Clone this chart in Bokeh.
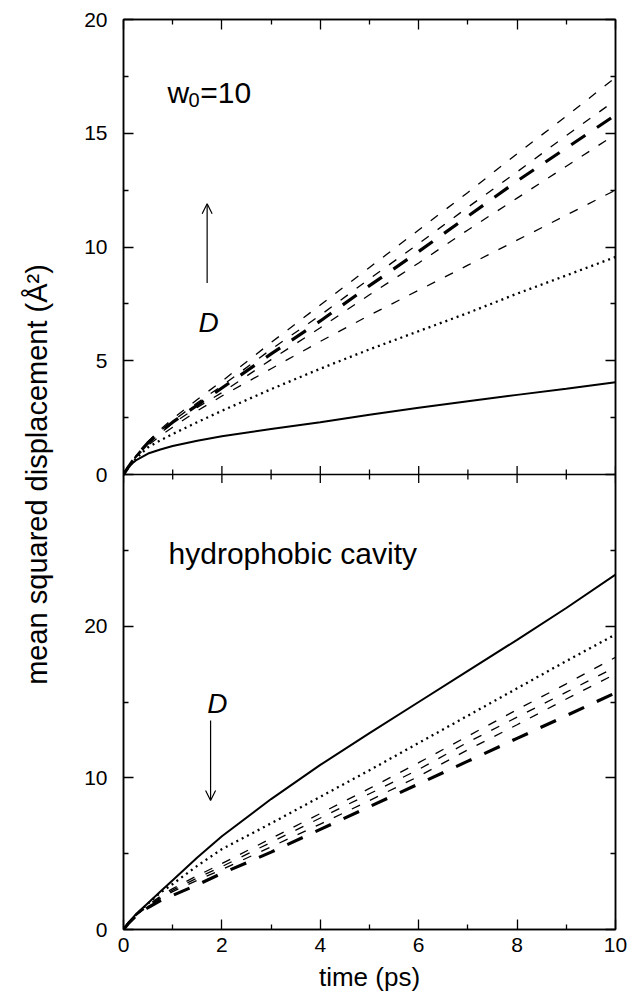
import math
from bokeh.plotting import figure
from bokeh.models import (Range1d, LinearAxis, FixedTicker, Span, Label, Arrow,
                          OpenHead, CustomJSTickFormatter)
from bokeh.embed import file_html
from bokeh.resources import INLINE

FONT = "Liberation Sans"

# ---------------- data ----------------
time_ps = [0, 0.1, 0.25, 0.5, 0.75, 1, 1.5, 2, 3, 4, 5, 6, 7, 8, 9, 10]

# upper panel (w0 = 10)
top_solid  = [0, 0.35, 0.62, 0.92, 1.10, 1.25, 1.48, 1.68, 2.00, 2.30, 2.63, 2.93, 3.22, 3.50, 3.77, 4.05]
top_dotted = [0, 0.30, 0.70, 1.20, 1.50, 1.78, 2.30, 2.80, 3.75, 4.65, 5.50, 6.30, 7.10, 7.95, 8.75, 9.56]
top_thin1  = [0, 0.32, 0.75, 1.28, 1.70, 2.08, 2.80, 3.45, 4.65, 5.85, 7.00, 8.10, 9.20, 10.30, 11.40, 12.50]
top_thin2  = [0, 0.32, 0.78, 1.35, 1.82, 2.25, 2.95, 3.60, 5.05, 6.45, 7.90, 9.30, 10.75, 12.15, 13.55, 14.95]
top_bold   = [0, 0.33, 0.80, 1.40, 1.88, 2.30, 3.05, 3.80, 5.30, 6.75, 8.30, 9.80, 11.35, 12.90, 14.35, 15.80]
top_thin3  = [0, 0.33, 0.80, 1.42, 1.92, 2.35, 3.15, 3.90, 5.50, 7.00, 8.60, 10.15, 11.75, 13.30, 14.90, 16.45]
top_thin4  = [0, 0.34, 0.82, 1.45, 1.98, 2.45, 3.30, 4.10, 5.80, 7.45, 9.10, 10.75, 12.40, 14.10, 15.75, 17.45]

# lower panel (hydrophobic cavity)
bot_solid  = [0, 0.45, 1.00, 1.75, 2.50, 3.25, 4.75, 6.15, 8.60, 10.85, 12.95, 15.00, 17.05, 19.10, 21.20, 23.40]
bot_dotted = [0, 0.42, 0.95, 1.72, 2.43, 3.00, 4.20, 5.30, 7.00, 8.75, 10.50, 12.30, 14.10, 15.90, 17.70, 19.45]
bot_thinA  = [0, 0.42, 0.95, 1.62, 2.20, 2.70, 3.55, 4.35, 6.00, 7.65, 9.30, 11.00, 12.75, 14.50, 16.20, 17.95]
bot_thinB  = [0, 0.42, 0.93, 1.58, 2.12, 2.60, 3.40, 4.15, 5.75, 7.35, 8.95, 10.55, 12.35, 14.00, 15.65, 17.30]
bot_thinC  = [0, 0.42, 0.92, 1.55, 2.05, 2.50, 3.25, 3.95, 5.45, 6.95, 8.50, 10.10, 11.85, 13.50, 15.20, 16.85]
bot_bold   = [0, 0.40, 0.88, 1.45, 1.90, 2.25, 2.95, 3.70, 5.10, 6.60, 8.10, 9.60, 11.10, 12.60, 14.10, 15.60]

# ticks
x_major = [0, 2, 4, 6, 8, 10]
x_minor = [1, 3, 5, 7, 9]
bottom_major = [0, 10, 20]
bottom_minor = [5, 15, 25]
top_major = [0, 5, 10, 15, 20]
top_minor = [2.5, 7.5, 12.5, 17.5]
BOTTOM_MAX = 30     # lower panel spans 0..30
TOP_MAX = 20        # upper panel spans 0..20

# upper panel values expressed on the lower panel's (primary) axis
scale = BOTTOM_MAX / TOP_MAX
def to_primary(v):
    r = BOTTOM_MAX + scale * v
    return int(r) if r == int(r) else r

left_ticks = bottom_major + [to_primary(v) for v in top_major]
left_minor = bottom_minor + [to_primary(v) for v in top_minor]
overrides = {to_primary(v): str(v) for v in top_major}

# ---------------- figure ----------------
p = figure(width=632, height=994, output_backend="svg", toolbar_location=None,
           x_range=Range1d(0, 10), y_range=Range1d(0, 2 * BOTTOM_MAX),
           min_border_left=123, min_border_right=17, min_border_top=19,
           min_border_bottom=65, background_fill_color="white",
           border_fill_color="white")
p.extra_y_ranges = {"top": Range1d(-TOP_MAX, TOP_MAX)}
p.grid.visible = False
p.outline_line_color = "black"
p.outline_line_width = 1.5

def style_axis(ax, labels=True):
    ax.axis_line_color = "black"
    ax.axis_line_width = 1.5
    ax.major_tick_in = 10
    ax.major_tick_out = 0
    ax.minor_tick_in = 5
    ax.minor_tick_out = 0
    ax.major_tick_line_width = 1.3
    ax.minor_tick_line_width = 1.3
    ax.major_label_text_font = FONT
    ax.major_label_text_font_size = "21px"
    ax.major_label_text_color = "black"
    ax.axis_label_text_color = "black"
    if not labels:
        ax.formatter = CustomJSTickFormatter(code="return ''")
        ax.major_label_standoff = 0

# bottom x axis
xa = p.xaxis[0]
xa.ticker = FixedTicker(ticks=x_major, minor_ticks=x_minor)
style_axis(xa)
xa.major_label_standoff = 8
xa.axis_label = "time (ps)"
xa.axis_label_text_font = FONT
xa.axis_label_text_font_size = "26px"
xa.axis_label_text_font_style = "normal"
xa.axis_label_standoff = 7

# left y axis (both panels)
ya = p.yaxis[0]
ya.ticker = FixedTicker(ticks=left_ticks, minor_ticks=left_minor)
ya.major_label_overrides = overrides
style_axis(ya)
ya.major_label_standoff = 16
ya.axis_label = "mean squared displacement (Å²)"
ya.axis_label_text_font = FONT
ya.axis_label_text_font_size = "29px"
ya.axis_label_text_font_style = "normal"
ya.axis_label_standoff = 28

# right and top axes: ticks only
ra = LinearAxis(ticker=FixedTicker(ticks=left_ticks, minor_ticks=left_minor))
style_axis(ra, labels=False)
p.add_layout(ra, "right")
ta = LinearAxis(ticker=FixedTicker(ticks=x_major, minor_ticks=x_minor))
style_axis(ta, labels=False)
p.add_layout(ta, "above")

# boundary between the two panels, with ticks on both sides
p.add_layout(Span(location=0, dimension="width", y_range_name="top",
                  line_color="black", line_width=1.5))
p.scatter(x=x_major, y=[0] * len(x_major), y_range_name="top", marker="dash",
          angle=math.pi / 2, size=17, line_color="black", line_width=1.3)
p.scatter(x=x_minor, y=[0] * len(x_minor), y_range_name="top", marker="dash",
          angle=math.pi / 2, size=10, line_color="black", line_width=1.3)

# ---------------- curves ----------------
solid = dict(line_color="black", line_width=2)
dotted = dict(line_color="black", line_width=2.3, line_dash="2 4")
thin = dict(line_color="black", line_width=1.3, line_dash="9 11")
bold = dict(line_color="black", line_width=3.2, line_dash="17 14")

for ys in (top_thin1, top_thin2, top_thin3, top_thin4):
    p.line(time_ps, ys, y_range_name="top", **thin)
p.line(time_ps, top_bold, y_range_name="top", **bold)
p.line(time_ps, top_dotted, y_range_name="top", **dotted)
p.line(time_ps, top_solid, y_range_name="top", **solid)

for ys in (bot_thinA, bot_thinB, bot_thinC):
    p.line(time_ps, ys, **thin)
p.line(time_ps, bot_bold, **bold)
p.line(time_ps, bot_dotted, **dotted)
p.line(time_ps, bot_solid, **solid)

# ---------------- annotations ----------------
def lab(x, y, text, size, rng=None, style="normal", align="left"):
    kw = dict(x=x, y=y, text=text, text_font=FONT, text_font_size=size,
              text_font_style=style, text_align=align,
              text_baseline="alphabetic", text_color="black")
    if rng:
        kw["y_range_name"] = rng
    p.add_layout(Label(**kw))

lab(0.894, 16.8, "w", "30px", "top")
lab(1.32, 16.45, "0", "20px", "top")
lab(1.56, 16.8, "=10", "30px", "top")
lab(1.73, 6.67, "D", "28px", "top", style="italic", align="center")
p.add_layout(Arrow(x_start=1.70, y_start=8.42, x_end=1.70, y_end=11.9,
                   y_range_name="top", line_width=1.2, line_color="black",
                   end=OpenHead(size=10, line_width=1.2, line_color="black")))

lab(0.915, 24.8, "hydrophobic cavity", "30px")
lab(1.91, 14.9, "D", "28px", style="italic", align="center")
p.add_layout(Arrow(x_start=1.77, y_start=13.78, x_end=1.77, y_end=8.5,
                   line_width=1.2, line_color="black",
                   end=OpenHead(size=10, line_width=1.2, line_color="black")))

open("out.html", "w").write(file_html(p, INLINE))
